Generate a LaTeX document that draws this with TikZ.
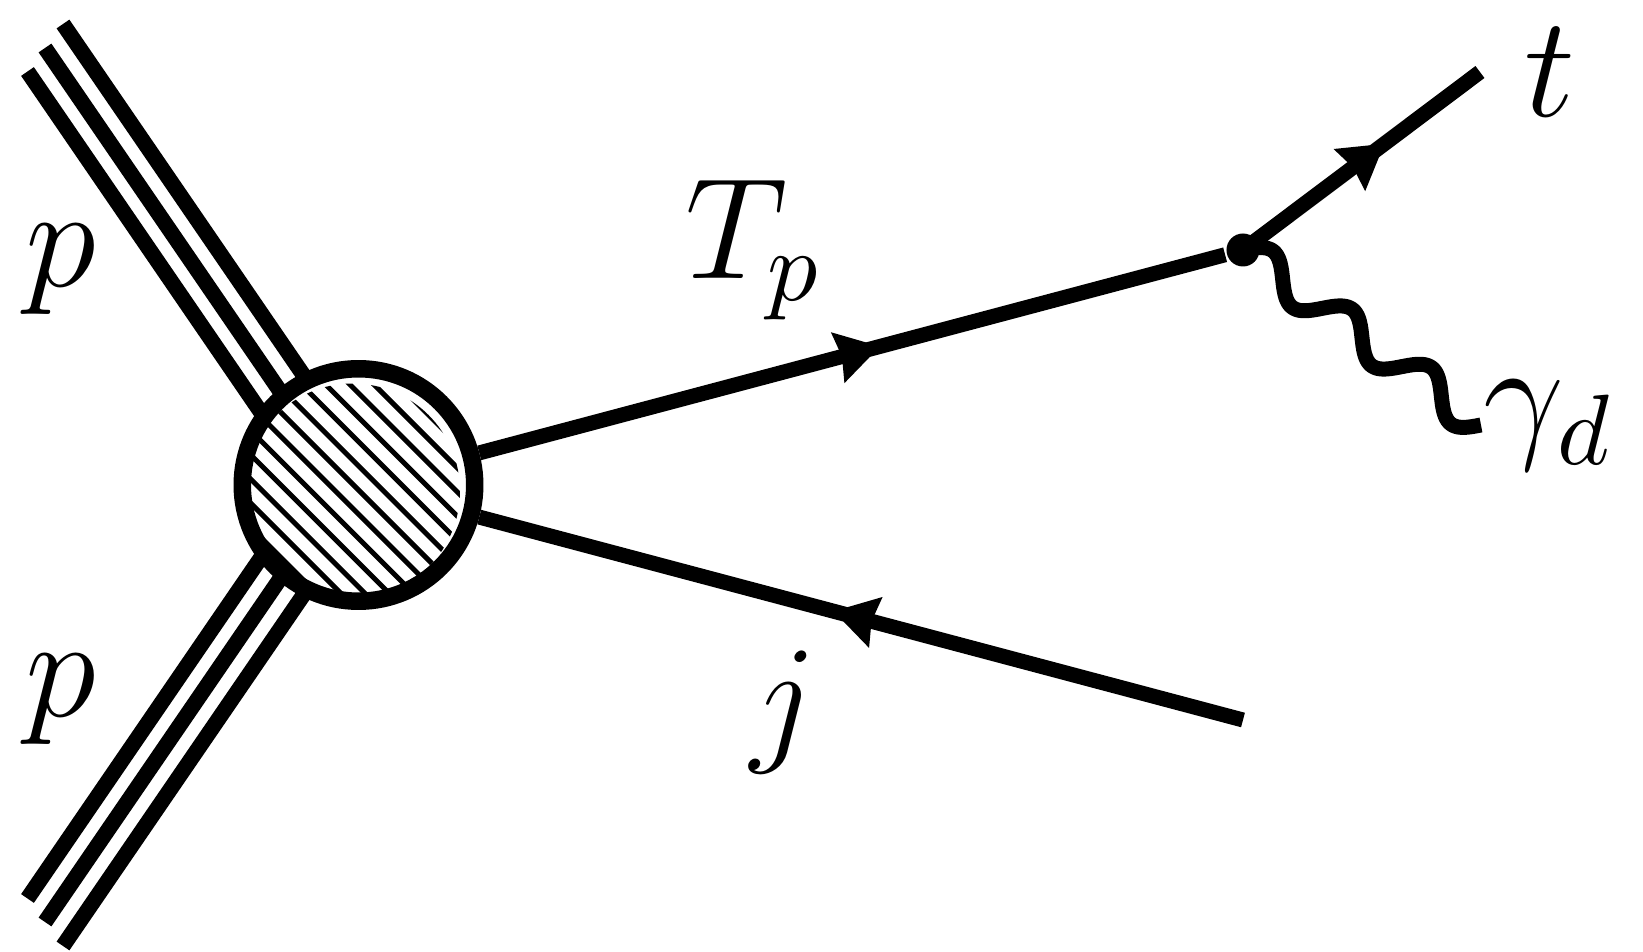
\documentclass[tikz,border=0pt]{standalone}
\usetikzlibrary{arrows.meta,decorations.markings,calc}
\begin{document}
\begin{tikzpicture}[x=0.1pt,y=-0.1pt,
  lbl/.style={font=\fontsize{14.4}{17}\selectfont, inner sep=0pt},
  fermion/.style={line width=1.5pt, postaction={decorate},
    decoration={markings, mark=at position 0.5 with {\arrow[xshift=2.9pt]{Stealth[length=4.3pt,width=5pt,inset=0.35pt]}}}},
  proton/.style={line width=1.55pt},
  photon/.style={line width=1.5pt, line join=round},
  hatch/.style={line width=0.5pt},
  blobst/.style={circle, draw, line width=1.75pt, fill=white, minimum size=23.25pt, inner sep=0pt,
    path picture={\clip (-6,6) circle (107.5);
      \foreach \k in {-8,...,8} \draw[hatch] (\k*24.2-205,-200) -- ++(400,400);}},
  dotst/.style={circle, fill, inner sep=0pt, minimum size=3.3pt}
]
\useasboundingbox (0,0) rectangle (1643,952);
% proton lines (upper)
\coordinate (a1) at (63,24);   \coordinate (a1e) at (328.6,411.8);
\coordinate (a2) at (45,48);   \coordinate (a2e) at (310.6,435.8);
\coordinate (a3) at (27.5,71.5); \coordinate (a3e) at (293.1,459.3);
% proton lines (lower)
\coordinate (b1) at (27.5,898.5); \coordinate (b1e) at (293.1,510.7);
\coordinate (b2) at (45,922);     \coordinate (b2e) at (310.6,534.2);
\coordinate (b3) at (63,946);     \coordinate (b3e) at (328.6,558.2);
\draw[proton] (a1) -- (a1e);
\draw[proton] (a2) -- (a2e);
\draw[proton] (a3) -- (a3e);
\draw[proton] (b1) -- (b1e);
\draw[proton] (b2) -- (b2e);
\draw[proton] (b3) -- (b3e);
% blob and vertex
\node[blobst] (blob) at (358.5,485) {};
\node[dotst] (v) at (1243,250) {};
\coordinate (tend) at (1480,72);
\coordinate (gend) at (1481,425);
\coordinate (jend) at (1243,720);
% propagators
\draw[fermion] (blob) -- (v);
\draw[fermion] (v.center) -- (tend);
\draw[fermion] (jend) -- (blob);
% photon: sine wave from v to gend (3 periods)
\draw[photon] plot[domain=0:1, samples=181, smooth]
  ({1243+238*\x+17*0.5924*sin(1080*\x)}, {250+175*\x-17*0.8057*sin(1080*\x)}) -- (gend);
% labels
\node[lbl] (lp1) at (61,270) {$p$};
\node[lbl] (lp2) at (61,700) {$p$};
\node[lbl] (lTp) at (754,250) {$T_p$};
\node[lbl] (lt) at (1550,72) {$t$};
\node[lbl] (lg) at (1549,426) {$\gamma_d$};
\node[lbl] (lj) at (784,712) {$j$};
\end{tikzpicture}
\end{document}
